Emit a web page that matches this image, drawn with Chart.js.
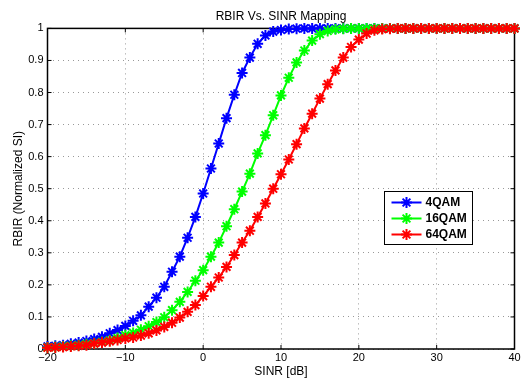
<!DOCTYPE html>
<html>
<head>
<meta charset="utf-8">
<script src="https://cdn.jsdelivr.net/npm/chart.js@4.4.0/dist/chart.umd.min.js"></script>
<style>
  html, body { margin: 0; padding: 0; background: #fff; }
  #cont { width: 531px; height: 381px; }
</style>
</head>
<body>
<div id="cont"><canvas id="grafico"></canvas></div>
<script>
// SINR en dB, un punto por dB
const sinr = [];
for (let d = -20; d <= 40; d++) sinr.push(d);

const rbir4 = [
  0.008, 0.010, 0.012, 0.016, 0.020, 0.025, 0.031, 0.038, 0.049, 0.059,
  0.072, 0.088, 0.105, 0.132, 0.160, 0.194, 0.241, 0.288, 0.347, 0.412,
  0.485, 0.563, 0.641, 0.720, 0.793, 0.861, 0.909, 0.952, 0.978, 0.990,
  0.995, 0.998, 0.999, 1, 1, 1, 1, 1, 1, 1,
  1, 1, 1, 1, 1, 1, 1, 1, 1, 1,
  1, 1, 1, 1, 1, 1, 1, 1, 1, 1, 1
];
const rbir16 = [
  0.005, 0.006, 0.008, 0.010, 0.012, 0.015, 0.018, 0.022, 0.027, 0.034,
  0.043, 0.050, 0.060, 0.071, 0.084, 0.099, 0.121, 0.147, 0.178, 0.213,
  0.246, 0.288, 0.332, 0.383, 0.436, 0.491, 0.547, 0.610, 0.667, 0.729,
  0.791, 0.846, 0.894, 0.931, 0.962, 0.982, 0.992, 0.997, 0.999, 1,
  1, 1, 1, 1, 1, 1, 1, 1, 1, 1,
  1, 1, 1, 1, 1, 1, 1, 1, 1, 1, 1
];
const rbir64 = [
  0.004, 0.005, 0.006, 0.008, 0.010, 0.012, 0.017, 0.020, 0.024, 0.028,
  0.033, 0.036, 0.042, 0.049, 0.058, 0.069, 0.082, 0.098, 0.116, 0.137,
  0.165, 0.194, 0.223, 0.256, 0.293, 0.332, 0.369, 0.412, 0.454, 0.500,
  0.545, 0.591, 0.639, 0.688, 0.734, 0.781, 0.826, 0.869, 0.909, 0.942,
  0.965, 0.984, 0.994, 0.998, 0.999, 1, 1, 1, 1, 1,
  1, 1, 1, 1, 1, 1, 1, 1, 1, 1, 1
];
const etiquetas = ['4QAM', '16QAM', '64QAM'];
const colores = ['#0000ff', '#00ff00', '#ff0000'];
const ticksX = [-20, -10, 0, 10, 20, 30, 40];
const ticksY = [0, 0.1, 0.2, 0.3, 0.4, 0.5, 0.6, 0.7, 0.8, 0.9, 1];

const fuente = "'Liberation Sans', Arial, Helvetica, sans-serif";

function serie(valores, i) {
  return {
    label: etiquetas[i],
    data: sinr.map((x, k) => ({ x: x, y: valores[k] })),
    borderColor: colores[i],
    backgroundColor: colores[i],
    borderWidth: 2,
    pointStyle: 'star',
    pointRadius: 5.5,
    pointBorderWidth: 2,
    pointHoverRadius: 5.5,
    tension: 0,
    clip: false,
    order: 2 - i
  };
}

// dibuja un asterisco como el de MATLAB
function estrella(ctx, x, y, r) {
  ctx.beginPath();
  for (let a = 0; a < 4; a++) {
    const ang = a * Math.PI / 4;
    ctx.moveTo(x - r * Math.cos(ang), y - r * Math.sin(ang));
    ctx.lineTo(x + r * Math.cos(ang), y + r * Math.sin(ang));
  }
  ctx.stroke();
}

// marco negro y marcas hacia dentro
const marco = {
  id: 'marco',
  beforeDatasetsDraw(chart) {
    const { ctx, chartArea: a, scales } = chart;
    ctx.save();
    ctx.strokeStyle = '#000';
    ctx.lineWidth = 1.5;
    ctx.strokeRect(a.left, a.top, a.right - a.left, a.bottom - a.top);
    ctx.lineWidth = 1;
    ctx.beginPath();
    ticksX.forEach(v => {
      const px = scales.x.getPixelForValue(v);
      ctx.moveTo(px, a.bottom); ctx.lineTo(px, a.bottom - 4);
      ctx.moveTo(px, a.top); ctx.lineTo(px, a.top + 4);
    });
    ticksY.forEach(v => {
      const py = scales.y.getPixelForValue(v);
      ctx.moveTo(a.left, py); ctx.lineTo(a.left + 4, py);
      ctx.moveTo(a.right, py); ctx.lineTo(a.right - 4, py);
    });
    ctx.stroke();
    ctx.restore();
  }
};

// leyenda dentro del area, como en la figura original
const leyenda = {
  id: 'leyenda',
  afterDraw(chart) {
    const ctx = chart.ctx;
    const x0 = 384.5, y0 = 191.5, w = 88, h = 53;
    ctx.save();
    ctx.fillStyle = '#fff';
    ctx.fillRect(x0, y0, w, h);
    ctx.strokeStyle = '#000';
    ctx.lineWidth = 1;
    ctx.strokeRect(x0, y0, w, h);
    ctx.font = 'bold 12px ' + fuente;
    ctx.textBaseline = 'middle';
    chart.data.datasets.forEach((ds, i) => {
      const yy = y0 + 11 + i * 16;
      ctx.strokeStyle = ds.borderColor;
      ctx.lineWidth = 2;
      ctx.beginPath();
      ctx.moveTo(x0 + 7, yy);
      ctx.lineTo(x0 + 37, yy);
      ctx.stroke();
      estrella(ctx, x0 + 22, yy, 5.5);
      ctx.fillStyle = '#000';
      ctx.fillText(ds.label, x0 + 41, yy + 0.5);
    });
    ctx.restore();
  }
};

const ctx = document.getElementById('grafico').getContext('2d');
new Chart(ctx, {
  type: 'line',
  data: {
    datasets: [serie(rbir4, 0), serie(rbir16, 1), serie(rbir64, 2)]
  },
  options: {
    responsive: true,
    maintainAspectRatio: false,
    animation: false,
    layout: { padding: { left: 0, right: 16.5, top: 0, bottom: 0 } },
    plugins: {
      legend: { display: false },
      tooltip: { enabled: false },
      title: {
        display: true,
        text: 'RBIR Vs. SINR Mapping',
        fullSize: false,
        color: '#000',
        font: { family: fuente, size: 12, weight: 'normal' },
        padding: { top: 9, bottom: 5 }
      }
    },
    scales: {
      x: {
        type: 'linear',
        min: -20,
        max: 40,
        afterBuildTicks: (s) => { s.ticks = ticksX.map(v => ({ value: v })); },
        afterFit: (s) => { s.height = 32; },
        ticks: {
          color: '#000',
          padding: 2,
          font: { family: fuente, size: 11 },
          callback: (v) => String(v).replace('-', '\u2212')
        },
        grid: { color: 'rgba(0,0,0,0.4)', drawTicks: false, tickLength: 0 },
        border: { display: false, dash: [1, 4] },
        title: {
          display: true,
          text: 'SINR [dB]',
          color: '#000',
          font: { family: fuente, size: 12 },
          padding: { top: 0, bottom: 2 }
        }
      },
      y: {
        type: 'linear',
        min: 0,
        max: 1,
        afterBuildTicks: (s) => { s.ticks = ticksY.map(v => ({ value: v })); },
        afterFit: (s) => { s.width = 47.5; },
        ticks: {
          color: '#000',
          padding: 4,
          font: { family: fuente, size: 11 },
          callback: (v) => String(Math.round(v * 10) / 10)
        },
        grid: { color: 'rgba(0,0,0,0.4)', drawTicks: false, tickLength: 0 },
        border: { display: false, dash: [1, 4] },
        title: {
          display: true,
          text: 'RBIR (Normalized SI)',
          color: '#000',
          font: { family: fuente, size: 12 },
          padding: { top: 11, bottom: 0 }
        }
      }
    }
  },
  plugins: [marco, leyenda]
});
</script>
</body>
</html>
